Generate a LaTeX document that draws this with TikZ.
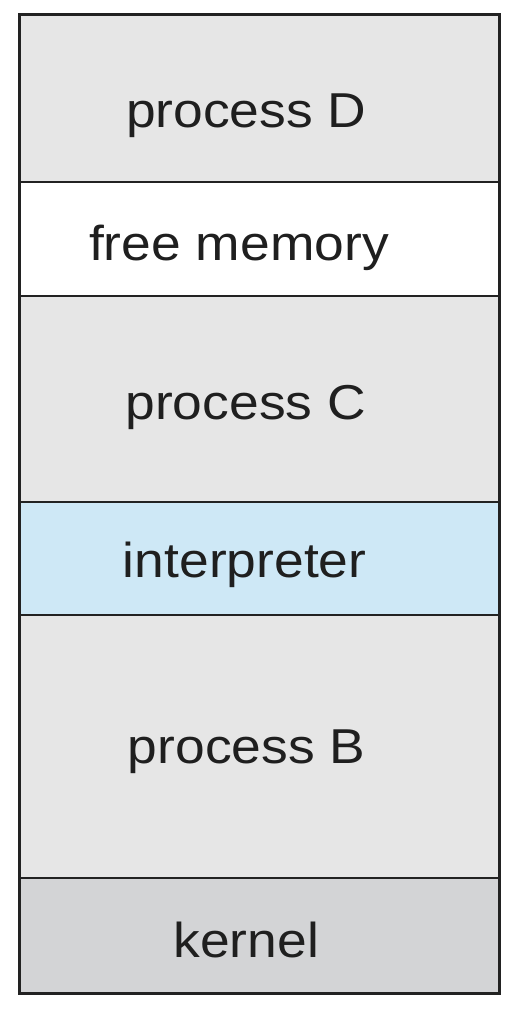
\documentclass[tikz,border=0pt]{standalone}
\usepackage{fontspec}
\setmainfont{Liberation Sans}[FakeStretch=1.09]
\definecolor{procgray}{HTML}{E6E6E6}
\definecolor{interpblue}{HTML}{CEE8F6}
\definecolor{kernelgray}{HTML}{D3D4D6}
\definecolor{linedark}{HTML}{222222}
\begin{document}
\begin{tikzpicture}[x=1pt,y=-1pt,
  region/.style={draw=linedark,line width=2pt},
  label/.style={anchor=base,inner sep=0pt,text=black!88,font=\fontsize{49}{58}\selectfont},
  outer/.style={draw=linedark,line width=3pt}]
\useasboundingbox (0,0) rectangle (520,1010);
\path[fill=white] (0,0) rectangle (520,1010);
\path[region,fill=procgray]   (19.5,14.7) rectangle (499,182);
\path[region,fill=white]      (19.5,182)  rectangle (499,296);
\path[region,fill=procgray]   (19.5,296)  rectangle (499,502);
\path[region,fill=interpblue] (19.5,502)  rectangle (499,615);
\path[region,fill=procgray]   (19.5,615)  rectangle (499,878);
\path[region,fill=kernelgray] (19.5,878)  rectangle (499,993);
\draw[outer] (19.5,14.7) rectangle (499,993);
\node[label] (pD) at (246.3,127.3) {process D};
\node[label] (free) at (239,260) {free memory};
\node[label] (pC) at (245.7,419.5) {process C};
\node[label] (interp) at (244.7,577.3) {interpreter};
\node[label] (pB) at (246.7,763.3) {process B};
\node[label] (kern) at (246.3,957.7) {kernel};
\end{tikzpicture}
\end{document}
